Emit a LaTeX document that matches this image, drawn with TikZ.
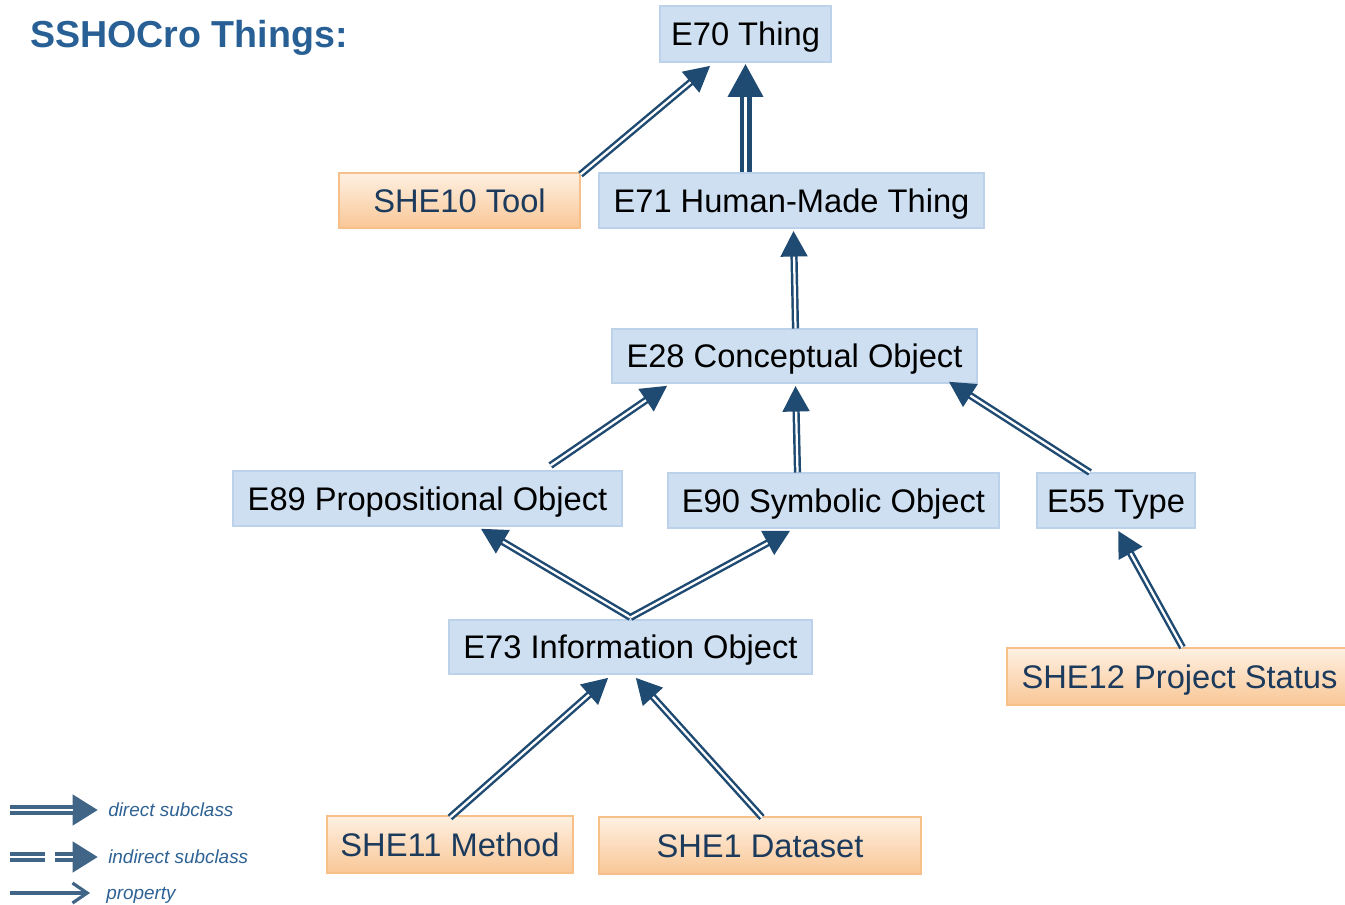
\documentclass[tikz,border=0pt]{standalone}
\usepackage{fontspec}
\setmainfont{Liberation Sans}
\usetikzlibrary{arrows.meta,calc}
\definecolor{arrowc}{RGB}{31,74,114}
\definecolor{legendc}{RGB}{46,98,148}
\definecolor{titlec}{RGB}{40,96,150}
\definecolor{boxfill}{RGB}{205,223,240}
\definecolor{boxline}{RGB}{188,210,234}
\definecolor{otop}{RGB}{254,240,226}
\definecolor{obot}{RGB}{249,199,150}
\definecolor{oline}{RGB}{247,192,138}
\definecolor{otext}{RGB}{28,58,92}
\begin{document}
\begin{tikzpicture}[x=0.75pt,y=-0.75pt,
  box/.style={inner sep=0pt, text height=17.5pt, text depth=0pt, font=\fontsize{24.5}{28}\selectfont},
  bluebox/.style={box, fill=boxfill, draw=boxline, line width=0.8pt, text=black},
  orangebox/.style={box, top color=otop, bottom color=obot, draw=oline, line width=0.8pt, text=otext},
  sub/.style={draw=white, line width=1.7pt, shorten >=19.5pt,
    preaction={draw=arrowc, line width=5.4pt, shorten >=0pt, -{Triangle[length=19.5pt,width=19pt]}}},
  bigsub/.style={draw=white, line width=2.2pt, shorten >=25pt,
    preaction={draw=arrowc, line width=9pt, shorten >=0pt, -{Triangle[length=25pt,width=25pt]}}},
  legsub/.style={draw=white, line width=1.8pt, shorten >=19pt,
    preaction={draw=arrowc!85!white, line width=7pt, shorten >=0pt, -{Triangle[length=19pt,width=22pt]}}},
  legtext/.style={anchor=west, inner sep=0pt, text height=10pt, text depth=0pt, text=legendc,
    font=\fontsize{14.2}{17}\selectfont\itshape},
]
\useasboundingbox (0,0) rectangle (1345,905);
\clip (0,0) rectangle (1345,905);

% title
\node[anchor=west, inner sep=0pt, text height=20pt, text depth=0pt, text=titlec,
  font=\fontsize{28.2}{32}\selectfont\bfseries] (title) at (30,34) {SSHOCro Things:};

% class boxes
\node[bluebox, minimum width=128.25pt, minimum height=42pt] (e70) at (745.5,34) {E70 Thing};
\node[orangebox, minimum width=180.75pt, minimum height=41.25pt] (she10) at (459.5,200.5) {SHE10 Tool};
\node[bluebox, minimum width=288.75pt, minimum height=41.25pt] (e71) at (791.5,200.5) {E71 Human-Made Thing};
\node[bluebox, minimum width=273.75pt, minimum height=40.5pt] (e28) at (794.5,356) {E28 Conceptual Object};
\node[bluebox, minimum width=291.75pt, minimum height=41.25pt] (e89) at (427.5,498.5) {E89 Propositional Object};
\node[bluebox, minimum width=248.25pt, minimum height=41.25pt] (e90) at (833.5,500.5) {E90 Symbolic Object};
\node[bluebox, minimum width=118.5pt, minimum height=41.25pt] (e55) at (1116,500.5) {E55 Type};
\node[bluebox, minimum width=272.25pt, minimum height=40.5pt] (e73) at (630.5,647) {E73 Information Object};
\node[orangebox, minimum width=258.75pt, minimum height=42.75pt] (she12) at (1179.5,676.5) {SHE12 Project Status};
\node[orangebox, minimum width=184.5pt, minimum height=42.75pt] (she11) at (450,844.5) {SHE11 Method};
\node[orangebox, minimum width=241.5pt, minimum height=42.75pt] (she1) at (760,845.5) {SHE1 Dataset};

% subclass arrows
\draw[sub] ($(she10.north east)+(0,2)$) -- ($(e70.south)+(-35,3)$);
\draw[bigsub] ($(e71.north)+(-46,0)$) -- ($(e70.south)+(0,1)$);
\draw[sub] ($(e28.north)+(1,0)$) -- ($(e71.south)+(2,2)$);
\draw[sub] ($(e89.north)+(123,-5)$) -- ($(e28.south)+(-127,2)$);
\draw[sub] ($(e90.north)+(-36,0)$) -- ($(e28.south)+(1,2)$);
\draw[sub] ($(e55.north)+(-26,0)$) -- ($(e28.south east)+(-29,-2)$);
\draw[sub] ($(e73.north)+(0,-2)$) -- ($(e89.south)+(53,2)$);
\draw[sub] ($(e73.north)+(0,-2)$) -- ($(e90.south)+(-43,2)$);
\draw[sub] ($(she12.north)+(3,0)$) -- ($(e55.south)+(2,2)$);
\draw[sub] ($(she11.north)+(0,2)$) -- ($(e73.south)+(-22,3)$);
\draw[sub] ($(she1.north)+(2,1)$) -- ($(e73.south)+(5,3)$);

% legend
\coordinate (l1a) at (10,810); \coordinate (l1b) at (98,810);
\coordinate (l2a) at (10,857); \coordinate (l2b) at (98,857);
\coordinate (l3a) at (10,893); \coordinate (l3b) at (90,893);
\draw[legsub] (l1a) -- (l1b);
\draw[draw=white, line width=1.8pt, shorten >=19pt,
  preaction={draw=arrowc!85!white, line width=7pt, shorten >=0pt, dash pattern=on 26pt off 8pt,
  -{Triangle[length=19pt,width=22pt]}}] (l2a) -- (l2b);
\draw[draw=arrowc!85!white, line width=2.4pt, -{Straight Barb[length=11pt,width=15pt,line width=2.4pt]}] (l3a) -- (l3b);
\node[legtext] (t1) at (108,810) {direct subclass};
\node[legtext] (t2) at (108,857) {indirect subclass};
\node[legtext] (t3) at (106,893) {property};
\end{tikzpicture}
\end{document}
